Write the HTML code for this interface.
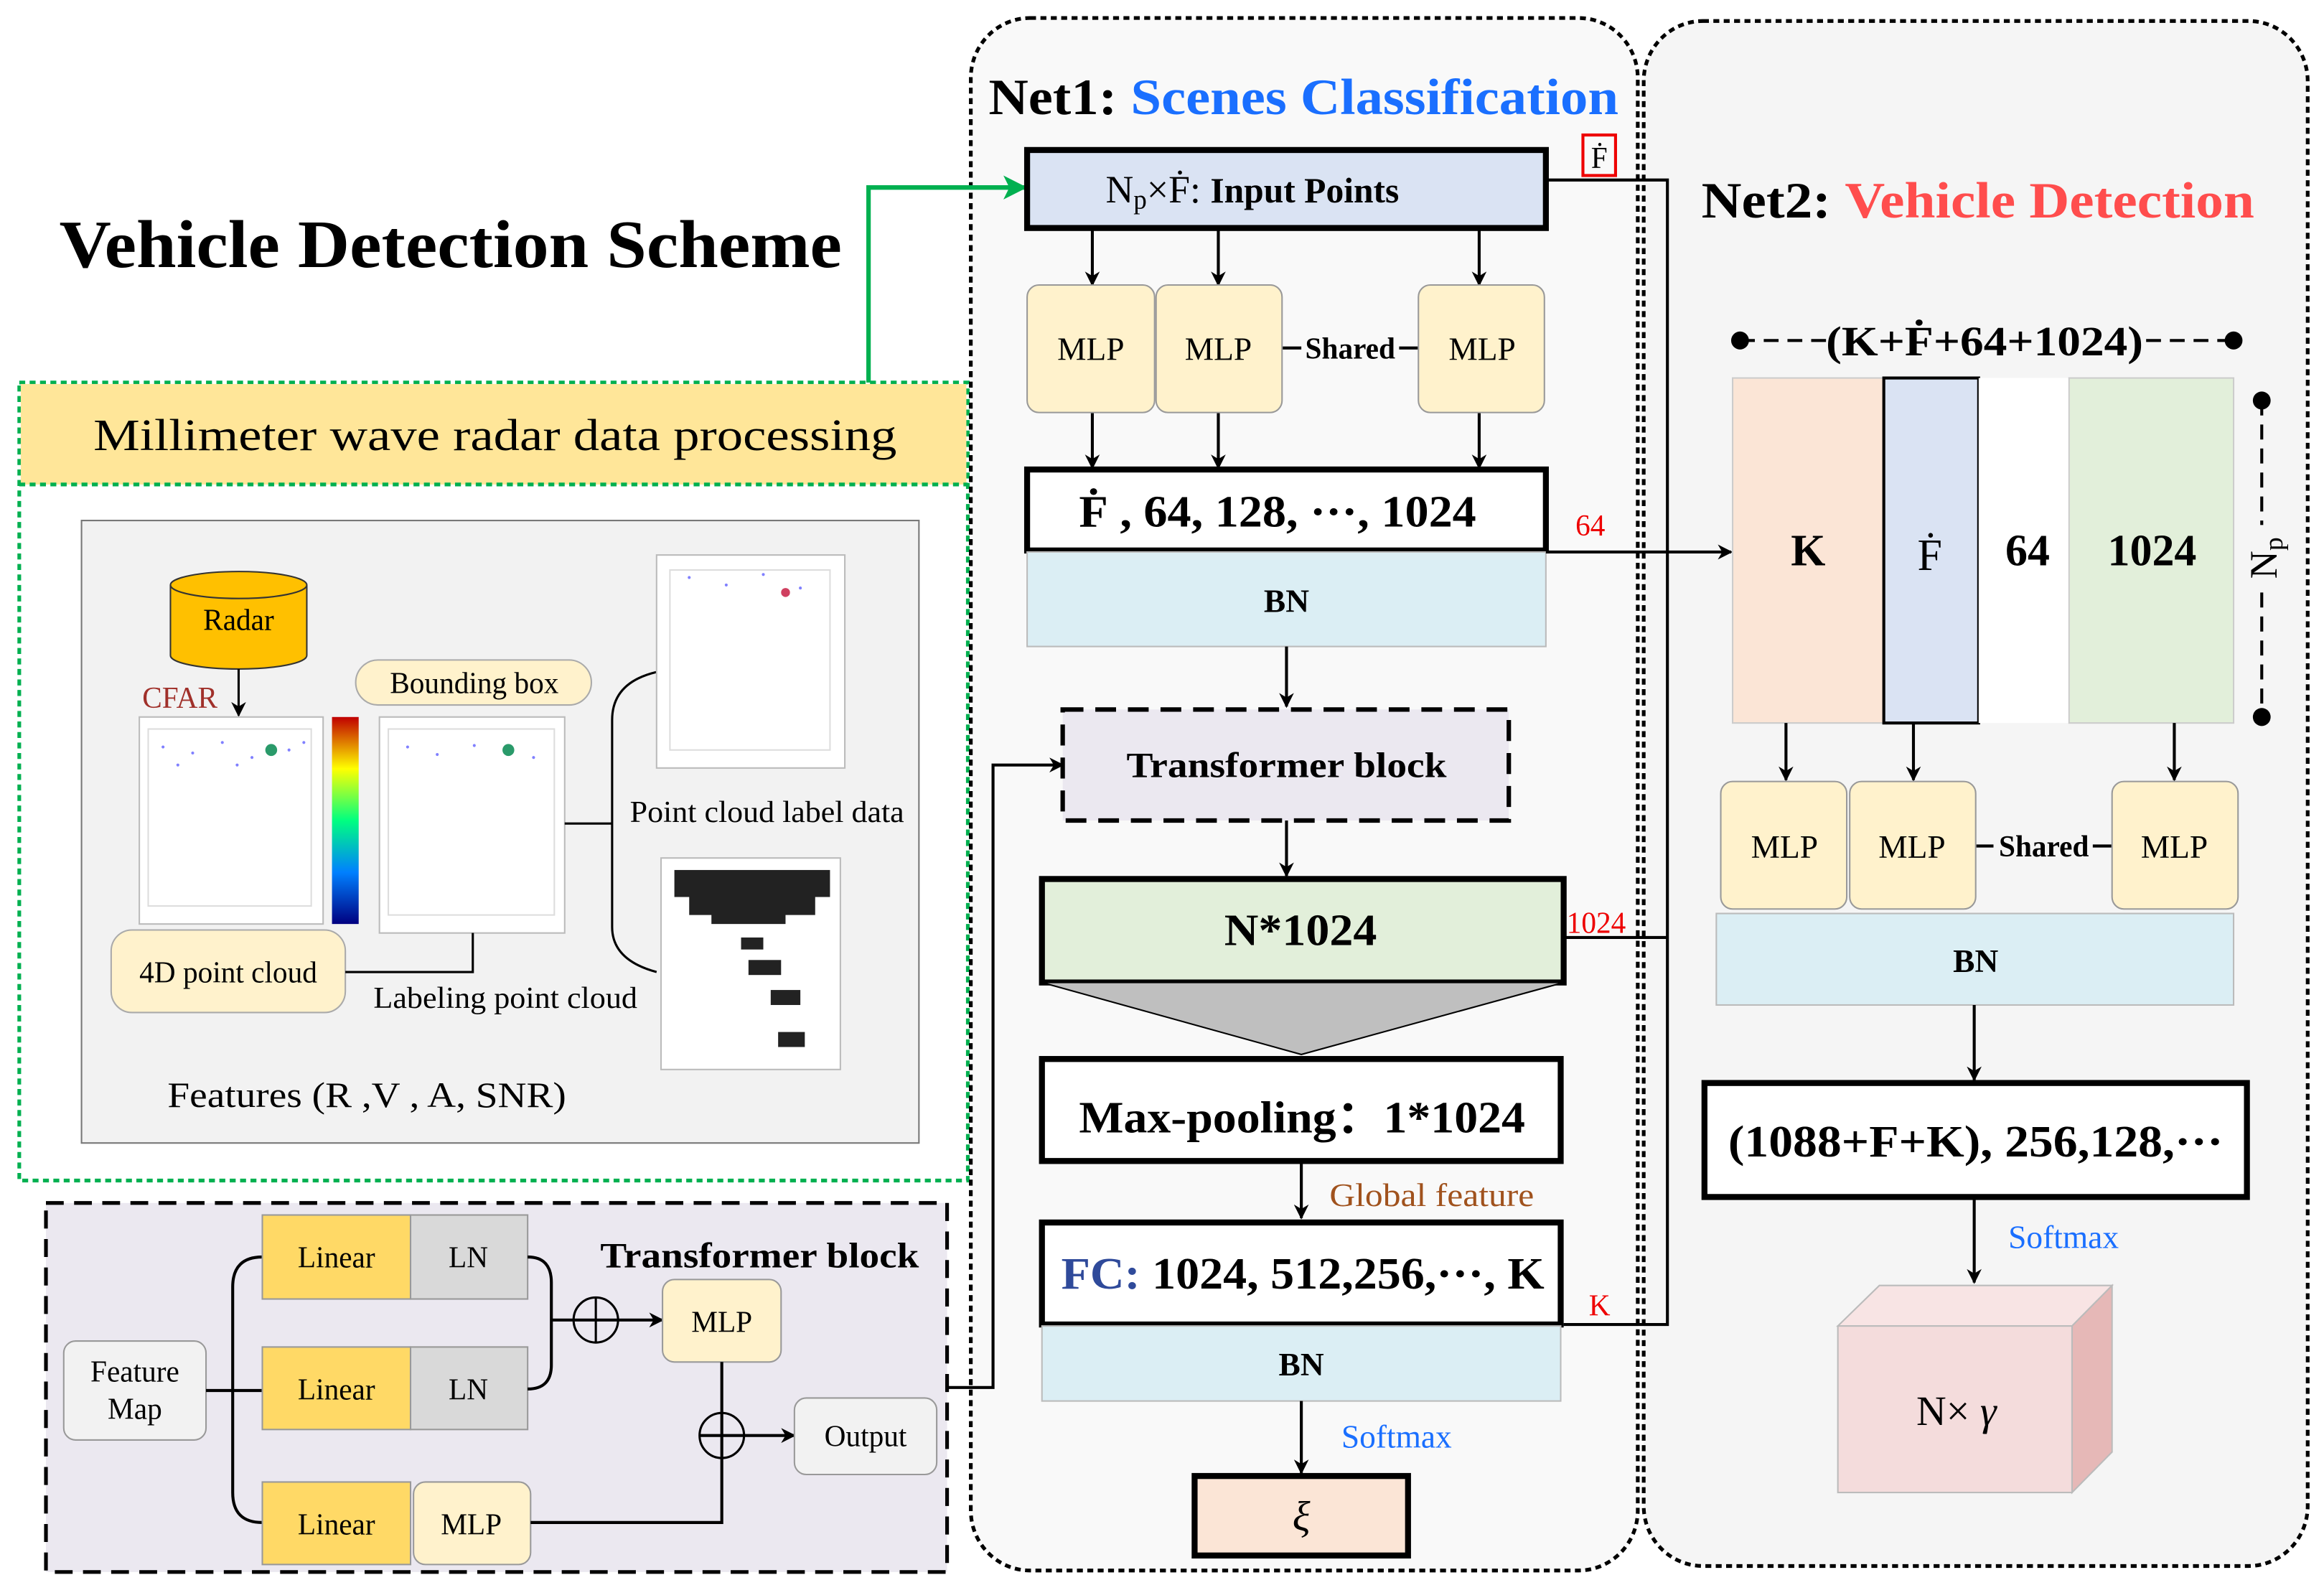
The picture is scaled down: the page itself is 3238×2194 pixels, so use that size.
<!DOCTYPE html>
<html><head><meta charset="utf-8"><style>
html,body{margin:0;padding:0;background:#fff;}
svg{display:block;}
text{font-family:"Liberation Serif",serif;}
.b{font-weight:bold;}
</style></head><body>
<svg width="3238" height="2194" viewBox="0 0 1568 1050" preserveAspectRatio="none" xmlns="http://www.w3.org/2000/svg">
<defs>
<marker id="ar" markerWidth="10" markerHeight="10" refX="9" refY="5" orient="auto" markerUnits="userSpaceOnUse"><path d="M0,0 L10,5 L0,10 L3,5 z" fill="#000"/></marker>
<marker id="ag" markerWidth="16" markerHeight="16" refX="15" refY="8" orient="auto" markerUnits="userSpaceOnUse"><path d="M0,0 L16,8 L0,16 L4,8 z" fill="#00b050"/></marker>
<linearGradient id="cb" x1="0" y1="0" x2="0" y2="1"><stop offset="0" stop-color="#c00000"/><stop offset="0.25" stop-color="#ffff00"/><stop offset="0.5" stop-color="#00ff80"/><stop offset="0.75" stop-color="#0080ff"/><stop offset="1" stop-color="#000080"/></linearGradient>
</defs>

<text x="40" y="178" class="b" font-size="45" textLength="528" lengthAdjust="spacingAndGlyphs">Vehicle Detection Scheme</text>

<!-- Millimeter wave panel -->
<rect x="13" y="255" width="640" height="532" fill="#fff" stroke="#00b050" stroke-width="2.5" stroke-dasharray="4,3"/>
<rect x="14" y="256" width="638" height="67" fill="#ffe699"/>
<line x1="13" y1="323" x2="653" y2="323" stroke="#00b050" stroke-width="2.5" stroke-dasharray="4,3"/>
<text x="63" y="300" font-size="30" textLength="542" lengthAdjust="spacingAndGlyphs">Millimeter wave radar data processing</text>
<rect x="55" y="347" width="565" height="415" fill="#f2f2f2" stroke="#777" stroke-width="1"/>

<path d="M115,390 L115,437 A46,9 0 0 0 207,437 L207,390" fill="#ffc000" stroke="#333" stroke-width="1"/>
<ellipse cx="161" cy="390" rx="46" ry="9" fill="#ffc000" stroke="#333" stroke-width="1"/>
<text x="161" y="420" font-size="20" text-anchor="middle">Radar</text>
<text x="96" y="472" font-size="20" fill="#a0302a">CFAR</text>
<line x1="161" y1="446" x2="161" y2="477" stroke="#000" stroke-width="1.5" marker-end="url(#ar)"/>

<rect x="94" y="478" width="124" height="138" fill="#fff" stroke="#bbb"/>
<rect x="100" y="486" width="110" height="118" fill="none" stroke="#ddd"/>
<g fill="#8080ff"><circle cx="110" cy="498" r="1"/><circle cx="130" cy="502" r="1"/><circle cx="150" cy="495" r="1"/><circle cx="170" cy="505" r="1"/><circle cx="195" cy="500" r="1"/><circle cx="120" cy="510" r="1"/><circle cx="160" cy="510" r="1"/><circle cx="205" cy="495" r="1"/></g>
<circle cx="183" cy="500" r="4" fill="#2a9a6a"/>
<rect x="224" y="478" width="18" height="138" fill="url(#cb)"/>
<rect x="256" y="478" width="125" height="144" fill="#fff" stroke="#bbb"/>
<rect x="262" y="486" width="112" height="124" fill="none" stroke="#ddd"/>
<circle cx="343" cy="500" r="4" fill="#2a9a6a"/>
<g fill="#8080ff"><circle cx="275" cy="498" r="1"/><circle cx="295" cy="503" r="1"/><circle cx="320" cy="497" r="1"/><circle cx="360" cy="505" r="1"/></g>
<rect x="240" y="440" width="159" height="30" rx="15" fill="#fff2cc" stroke="#aaa"/>
<text x="320" y="462" font-size="20" text-anchor="middle">Bounding box</text>
<rect x="75" y="620" width="158" height="55" rx="14" fill="#fff2cc" stroke="#aaa"/>
<text x="154" y="655" font-size="20" text-anchor="middle">4D  point cloud</text>
<polyline points="233,648 319,648 319,622" fill="none" stroke="#000" stroke-width="1.5"/>
<text x="252" y="672" font-size="20" textLength="178" lengthAdjust="spacingAndGlyphs">Labeling point cloud</text>
<line x1="381" y1="549" x2="413" y2="549" stroke="#000" stroke-width="1.5"/>
<path d="M443,448 Q413,455 413,480 L413,618 Q413,640 443,648" fill="none" stroke="#000" stroke-width="1.5"/>
<rect x="443" y="370" width="127" height="142" fill="#fff" stroke="#bbb"/>
<rect x="452" y="380" width="108" height="120" fill="none" stroke="#ddd"/>
<g fill="#8080ff"><circle cx="465" cy="385" r="1"/><circle cx="490" cy="390" r="1"/><circle cx="515" cy="383" r="1"/><circle cx="540" cy="392" r="1"/></g>
<circle cx="530" cy="395" r="3" fill="#d04060"/>
<text x="425" y="548" font-size="20" textLength="185" lengthAdjust="spacingAndGlyphs">Point cloud label data</text>
<rect x="446" y="572" width="121" height="141" fill="#fff" stroke="#bbb"/>
<g fill="#222"><rect x="455" y="580" width="105" height="18"/><rect x="465" y="595" width="85" height="15"/><rect x="480" y="608" width="50" height="8"/><rect x="500" y="625" width="15" height="8"/><rect x="505" y="640" width="22" height="10"/><rect x="520" y="660" width="20" height="10"/><rect x="525" y="688" width="18" height="10"/></g>
<text x="113" y="738" font-size="24" textLength="269" lengthAdjust="spacingAndGlyphs">Features (R ,V , A, SNR)</text>

<!-- Transformer block detail -->
<rect x="31" y="802" width="608" height="246" fill="#ebe8f0" stroke="#000" stroke-width="2.5" stroke-dasharray="12,7"/>
<text x="405" y="845" class="b" font-size="24" textLength="215" lengthAdjust="spacingAndGlyphs">Transformer block</text>
<rect x="43" y="894" width="96" height="66" rx="8" fill="#f2f2f2" stroke="#999"/>
<text x="91" y="921" font-size="20" text-anchor="middle">Feature</text>
<text x="91" y="946" font-size="20" text-anchor="middle">Map</text>
<line x1="139" y1="927" x2="177" y2="927" stroke="#000" stroke-width="2"/>
<path d="M177,838 Q157,838 157,858 L157,995 Q157,1015 177,1015" fill="none" stroke="#000" stroke-width="2"/>
<rect x="177" y="810" width="100" height="56" fill="#ffd966" stroke="#999"/>
<rect x="277" y="810" width="79" height="56" fill="#d9d9d9" stroke="#999"/>
<text x="227" y="845" font-size="20" text-anchor="middle">Linear</text>
<text x="316" y="845" font-size="20" text-anchor="middle">LN</text>
<rect x="177" y="898" width="100" height="55" fill="#ffd966" stroke="#999"/>
<rect x="277" y="898" width="79" height="55" fill="#d9d9d9" stroke="#999"/>
<text x="227" y="933" font-size="20" text-anchor="middle">Linear</text>
<text x="316" y="933" font-size="20" text-anchor="middle">LN</text>
<rect x="177" y="988" width="100" height="55" fill="#ffd966" stroke="#999"/>
<rect x="279" y="988" width="79" height="55" rx="8" fill="#fff2cc" stroke="#999"/>
<text x="227" y="1023" font-size="20" text-anchor="middle">Linear</text>
<text x="318" y="1023" font-size="20" text-anchor="middle">MLP</text>
<path d="M356,838 Q372,838 372,855 L372,910 Q372,926 356,926" fill="none" stroke="#000" stroke-width="2"/>
<line x1="372" y1="880" x2="447" y2="880" stroke="#000" stroke-width="2" marker-end="url(#ar)"/>
<circle cx="402" cy="880" r="15" fill="none" stroke="#000" stroke-width="1.5"/>
<line x1="402" y1="865" x2="402" y2="895" stroke="#000" stroke-width="1.5"/>
<rect x="447" y="853" width="80" height="55" rx="8" fill="#fff2cc" stroke="#999"/>
<text x="487" y="888" font-size="20" text-anchor="middle">MLP</text>
<polyline points="358,1015 487,1015 487,908" fill="none" stroke="#000" stroke-width="2"/>
<line x1="472" y1="957" x2="536" y2="957" stroke="#000" stroke-width="2" marker-end="url(#ar)"/>
<circle cx="487" cy="957" r="15" fill="none" stroke="#000" stroke-width="1.5"/>
<rect x="536" y="932" width="96" height="51" rx="8" fill="#f2f2f2" stroke="#999"/>
<text x="584" y="964" font-size="20" text-anchor="middle">Output</text>

<!-- Net panels -->
<rect x="655" y="12" width="450" height="1035" rx="40" fill="#f5f5f5" fill-opacity="0.6" stroke="#000" stroke-width="2.5" stroke-dasharray="4,3"/>
<rect x="1109" y="14" width="448" height="1030" rx="40" fill="#f5f5f5" stroke="#000" stroke-width="2.5" stroke-dasharray="4,3"/>
<polyline points="639,925 670,925 670,510 717,510" fill="none" stroke="#000" stroke-width="2" marker-end="url(#ar)"/>
<polyline points="586,255 586,125 692,125" fill="none" stroke="#00b050" stroke-width="3" marker-end="url(#ag)"/>

<text x="667" y="76" class="b" font-size="34" textLength="425" lengthAdjust="spacingAndGlyphs">Net1: <tspan fill="#1a6fff">Scenes Classification</tspan></text>

<rect x="693" y="100" width="350" height="52" fill="#dae3f3" stroke="#000" stroke-width="4"/>
<text x="746" y="135" font-size="26">N<tspan font-size="18" dy="4">p</tspan><tspan dy="-4">×Ḟ:  </tspan><tspan class="b" font-size="24">Input Points</tspan></text>
<rect x="1068" y="90" width="22" height="27" fill="none" stroke="#e00" stroke-width="2"/>
<text x="1079" y="112" font-size="20" text-anchor="middle">Ḟ</text>
<polyline points="1043,120 1125,120 1125,883 1055,883" fill="none" stroke="#000" stroke-width="2"/>
<line x1="1055" y1="625" x2="1125" y2="625" stroke="#000" stroke-width="2"/>

<g stroke="#000" stroke-width="2">
<line x1="737" y1="152" x2="737" y2="190" marker-end="url(#ar)"/>
<line x1="822" y1="152" x2="822" y2="190" marker-end="url(#ar)"/>
<line x1="998" y1="152" x2="998" y2="190" marker-end="url(#ar)"/>
<line x1="737" y1="275" x2="737" y2="312" marker-end="url(#ar)"/>
<line x1="822" y1="275" x2="822" y2="312" marker-end="url(#ar)"/>
<line x1="998" y1="275" x2="998" y2="312" marker-end="url(#ar)"/>
<line x1="865" y1="232" x2="878" y2="232"/><line x1="944" y1="232" x2="957" y2="232"/>
</g>
<rect x="693" y="190" width="86" height="85" rx="8" fill="#fff2cc" stroke="#999"/>
<rect x="780" y="190" width="85" height="85" rx="8" fill="#fff2cc" stroke="#999"/>
<rect x="957" y="190" width="85" height="85" rx="8" fill="#fff2cc" stroke="#999"/>
<text x="736" y="240" font-size="22" text-anchor="middle">MLP</text>
<text x="822" y="240" font-size="22" text-anchor="middle">MLP</text>
<text x="1000" y="240" font-size="22" text-anchor="middle">MLP</text>
<text x="911" y="239" class="b" font-size="20" text-anchor="middle">Shared</text>

<rect x="693" y="313" width="350" height="54" fill="#fff" stroke="#000" stroke-width="4"/>
<text x="728" y="351" class="b" font-size="30" textLength="268" lengthAdjust="spacingAndGlyphs">Ḟ , 64, 128, ···, 1024</text>
<rect x="693" y="368" width="350" height="63" fill="#dbeef4" stroke="#bbb"/>
<text x="868" y="408" class="b" font-size="22" text-anchor="middle">BN</text>
<text x="1063" y="357" font-size="20" fill="#e00">64</text>
<line x1="1043" y1="368" x2="1168" y2="368" stroke="#000" stroke-width="2" marker-end="url(#ar)"/>
<line x1="868" y1="431" x2="868" y2="471" stroke="#000" stroke-width="2" marker-end="url(#ar)"/>

<rect x="717" y="473" width="301" height="74" fill="#ebe8f0" stroke="#000" stroke-width="3" stroke-dasharray="14,8"/>
<text x="760" y="518" class="b" font-size="24" textLength="216" lengthAdjust="spacingAndGlyphs">Transformer block</text>
<line x1="868" y1="547" x2="868" y2="584" stroke="#000" stroke-width="2" marker-end="url(#ar)"/>

<rect x="703" y="586" width="352" height="69" fill="#e2efda" stroke="#000" stroke-width="4"/>
<text x="826" y="630" class="b" font-size="30" textLength="103" lengthAdjust="spacingAndGlyphs">N*1024</text>
<text x="1057" y="622" font-size="20" fill="#e00">1024</text>
<polygon points="703,655 1055,655 878,703" fill="#bfbfbf" stroke="#000" stroke-width="1"/>

<rect x="703" y="706" width="350" height="68" fill="#fff" stroke="#000" stroke-width="4"/>
<text x="728" y="755" class="b" font-size="30" textLength="301" lengthAdjust="spacingAndGlyphs">Max-pooling：1*1024</text>
<line x1="878" y1="774" x2="878" y2="812" stroke="#000" stroke-width="2" marker-end="url(#ar)"/>
<text x="897" y="804" font-size="22" fill="#a0521d" textLength="138" lengthAdjust="spacingAndGlyphs">Global feature</text>

<rect x="703" y="815" width="350" height="68" fill="#fff" stroke="#000" stroke-width="4"/>
<text x="716" y="859" class="b" font-size="30" textLength="326" lengthAdjust="spacingAndGlyphs"><tspan fill="#2f4a9a">FC:</tspan> 1024, 512,256,···, K</text>
<text x="1072" y="877" font-size="20" fill="#e00">K</text>
<rect x="703" y="884" width="350" height="50" fill="#dbeef4" stroke="#bbb"/>
<text x="878" y="917" class="b" font-size="22" text-anchor="middle">BN</text>
<line x1="878" y1="934" x2="878" y2="982" stroke="#000" stroke-width="2" marker-end="url(#ar)"/>
<text x="905" y="965" font-size="22" fill="#1a6fff">Softmax</text>
<rect x="806" y="984" width="144" height="53" fill="#fbe5d6" stroke="#000" stroke-width="4"/>
<text x="878" y="1020" font-size="28" font-style="italic" text-anchor="middle">ξ</text>

<!-- Net2 -->
<text x="1148" y="145" class="b" font-size="34" textLength="373" lengthAdjust="spacingAndGlyphs">Net2: <tspan fill="#ff4d4d">Vehicle Detection</tspan></text>
<circle cx="1174" cy="227" r="6" fill="#000"/>
<circle cx="1507" cy="227" r="6" fill="#000"/>
<line x1="1174" y1="227" x2="1232" y2="227" stroke="#000" stroke-width="2" stroke-dasharray="10,6"/>
<line x1="1448" y1="227" x2="1507" y2="227" stroke="#000" stroke-width="2" stroke-dasharray="10,6"/>
<text x="1232" y="237" class="b" font-size="28" textLength="214" lengthAdjust="spacingAndGlyphs">(K+Ḟ+64+1024)</text>
<rect x="1169" y="252" width="102" height="230" fill="#fbe5d6" stroke="#ccc"/>
<rect x="1271" y="252" width="64" height="230" fill="#dae3f3" stroke="#000" stroke-width="2"/>
<rect x="1335" y="252" width="61" height="230" fill="#fff"/>
<rect x="1396" y="252" width="111" height="230" fill="#e2efda" stroke="#ccc"/>
<text x="1220" y="377" class="b" font-size="30" text-anchor="middle">K</text>
<text x="1302" y="380" font-size="30" text-anchor="middle">Ḟ</text>
<text x="1368" y="377" class="b" font-size="30" text-anchor="middle">64</text>
<text x="1452" y="377" class="b" font-size="30" text-anchor="middle">1024</text>
<line x1="1526" y1="267" x2="1526" y2="478" stroke="#000" stroke-width="2" stroke-dasharray="10,6"/>
<circle cx="1526" cy="267" r="6" fill="#000"/><circle cx="1526" cy="478" r="6" fill="#000"/>
<rect x="1512" y="350" width="28" height="42" fill="#f5f5f5"/>
<text x="0" y="0" font-size="26" text-anchor="middle" transform="translate(1536,372) rotate(-90)">N<tspan font-size="18" dy="4">p</tspan></text>
<g stroke="#000" stroke-width="2">
<line x1="1205" y1="482" x2="1205" y2="520" marker-end="url(#ar)"/>
<line x1="1291" y1="482" x2="1291" y2="520" marker-end="url(#ar)"/>
<line x1="1467" y1="482" x2="1467" y2="520" marker-end="url(#ar)"/>
<line x1="1333" y1="564" x2="1345" y2="564"/><line x1="1412" y1="564" x2="1425" y2="564"/>
</g>
<rect x="1161" y="521" width="85" height="85" rx="8" fill="#fff2cc" stroke="#999"/>
<rect x="1248" y="521" width="85" height="85" rx="8" fill="#fff2cc" stroke="#999"/>
<rect x="1425" y="521" width="85" height="85" rx="8" fill="#fff2cc" stroke="#999"/>
<text x="1204" y="572" font-size="22" text-anchor="middle">MLP</text>
<text x="1290" y="572" font-size="22" text-anchor="middle">MLP</text>
<text x="1467" y="572" font-size="22" text-anchor="middle">MLP</text>
<text x="1379" y="571" class="b" font-size="20" text-anchor="middle">Shared</text>
<rect x="1158" y="609" width="349" height="61" fill="#dbeef4" stroke="#bbb"/>
<text x="1333" y="648" class="b" font-size="22" text-anchor="middle">BN</text>
<line x1="1332" y1="670" x2="1332" y2="720" stroke="#000" stroke-width="2" marker-end="url(#ar)"/>
<rect x="1150" y="722" width="366" height="76" fill="#fff" stroke="#000" stroke-width="4"/>
<text x="1166" y="771" class="b" font-size="30" textLength="334" lengthAdjust="spacingAndGlyphs">(1088+F+K),  256,128,···</text>
<line x1="1332" y1="798" x2="1332" y2="855" stroke="#000" stroke-width="2" marker-end="url(#ar)"/>
<text x="1355" y="832" font-size="22" fill="#1a6fff">Softmax</text>
<polygon points="1240,884 1268,857 1425,857 1398,884" fill="#f8e4e4" stroke="#bbb"/>
<polygon points="1398,884 1425,857 1425,968 1398,995" fill="#e6b8b7" stroke="#bbb"/>
<rect x="1240" y="884" width="158" height="111" fill="#f4dcdc" stroke="#bbb"/>
<text x="1320" y="950" font-size="28" text-anchor="middle">N× <tspan font-style="italic">γ</tspan></text>
</svg>
</body></html>
